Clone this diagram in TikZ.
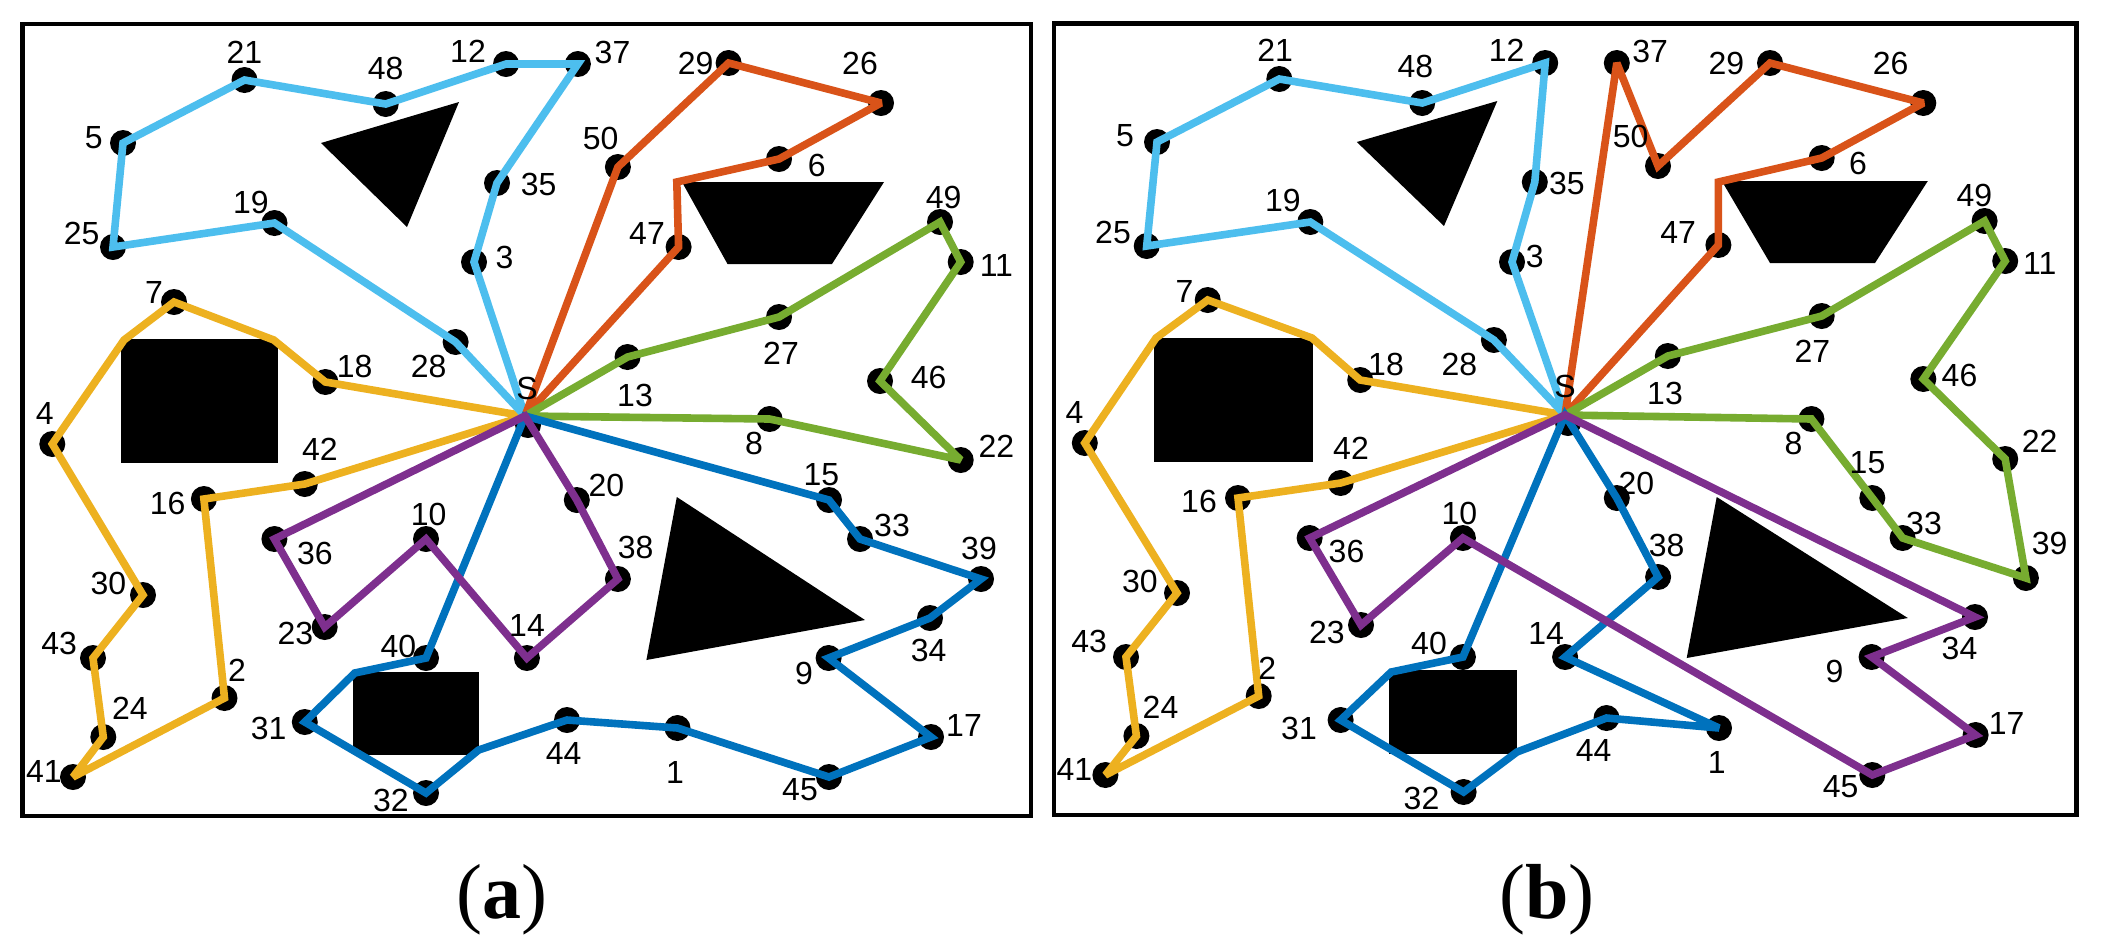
\documentclass[tikz,border=0pt]{standalone}
\usepackage{fontspec}
\setmainfont{Liberation Serif}
\newfontfamily\lblfont{Liberation Sans}
\definecolor{mlblue}{RGB}{0,114,189}
\definecolor{mlorange}{RGB}{217,83,25}
\definecolor{mlyellow}{RGB}{237,177,32}
\definecolor{mlpurple}{RGB}{126,47,142}
\definecolor{mlgreen}{RGB}{119,172,48}
\definecolor{mlcyan}{RGB}{77,190,238}
\gdef\lbls{}
\newcommand\mkpt[6]{\coordinate (#1) at (#2,#3); \fill (#1) circle[radius=6.5pt];%
  \expandafter\gdef\expandafter\lbls\expandafter{\lbls \node[lbl] (l#1) at (#4,#5) {#6};}}
\begin{document}
\begin{tikzpicture}[x=0.5pt,y=-0.5pt,
  lbl/.style={font=\lblfont\fontsize{16}{16}\selectfont, inner sep=0pt},
  route/.style={line width=3.8pt, line join=miter, miter limit=2.5, line cap=butt},
  frm/.style={line width=2.25pt},
  captxt/.style={font=\fontsize{39}{39}\selectfont, inner sep=0pt}]
\useasboundingbox (0,0) rectangle (2103,950);
\fill[white] (0,0) rectangle (2103,950);
% ---------------- panel (a) ----------------
\draw[frm] (22.4,24) rectangle (1031,816);
\fill (321,143) -- (459,102) -- (407,227) -- cycle;
\fill (120.5,339) rectangle (278,462.7);
\fill (682,182) -- (884,182) -- (832,264) -- (727.5,264) -- cycle;
\fill (676.8,497) -- (865,620) -- (646.4,660) -- cycle;
\fill (353,672) rectangle (478.6,755);
\coordinate (aS) at (525,416);
\fill (528,425) circle[radius=6.5pt];
\mkpt{a1}{677.5}{728}{675}{772}{1}
\mkpt{a2}{224.5}{698}{237}{670}{2}
\mkpt{a3}{474}{262}{504.5}{257}{3}
\mkpt{a4}{52.3}{444}{44.8}{413}{4}
\mkpt{a5}{123}{143}{93.7}{138}{5}
\mkpt{a6}{779}{159}{816.8}{165}{6}
\mkpt{a7}{174}{302}{154}{292}{7}
\mkpt{a8}{769.6}{419}{754}{443}{8}
\mkpt{a9}{828.6}{658}{804}{673}{9}
\mkpt{a10}{426}{539}{428.7}{514}{10}
\mkpt{a11}{960.7}{262}{996.4}{265}{11}
\mkpt{a12}{506}{64}{468}{51}{12}
\mkpt{a13}{627.5}{357}{635}{395}{13}
\mkpt{a14}{526.9}{658}{527}{625}{14}
\mkpt{a15}{829}{500}{821.4}{475}{15}
\mkpt{a16}{203.9}{499}{167.7}{503}{16}
\mkpt{a17}{931}{737}{964}{725}{17}
\mkpt{a18}{325.4}{382}{354.7}{366}{18}
\mkpt{a19}{274.5}{223}{251}{202}{19}
\mkpt{a20}{576.8}{500}{606.4}{485}{20}
\mkpt{a21}{244.5}{80}{244.5}{52}{21}
\mkpt{a22}{960.7}{460}{996.4}{446}{22}
\mkpt{a23}{324.7}{627}{295.5}{633}{23}
\mkpt{a24}{103.3}{737}{130}{708}{24}
\mkpt{a25}{113}{247}{81.6}{233}{25}
\mkpt{a26}{881}{103}{860}{63}{26}
\mkpt{a27}{779}{317}{781}{353}{27}
\mkpt{a28}{455.6}{342}{428.7}{366}{28}
\mkpt{a29}{728.6}{63}{695.7}{63}{29}
\mkpt{a30}{143}{595}{108.5}{583}{30}
\mkpt{a31}{304.8}{722}{268.6}{728}{31}
\mkpt{a32}{426}{793}{390.8}{800}{32}
\mkpt{a33}{860}{539}{892}{525}{33}
\mkpt{a34}{930}{618}{928.6}{650}{34}
\mkpt{a35}{497}{183}{538.6}{184}{35}
\mkpt{a36}{274.4}{539}{315}{553}{36}
\mkpt{a37}{577.9}{64}{612.5}{52}{37}
\mkpt{a38}{617.9}{579}{635.7}{547}{38}
\mkpt{a39}{981}{579}{979}{548}{39}
\mkpt{a40}{426}{658}{398.4}{646}{40}
\mkpt{a41}{73}{777}{44}{771}{41}
\mkpt{a42}{304.8}{484}{320}{449}{42}
\mkpt{a43}{93}{658}{59.2}{643}{43}
\mkpt{a44}{567}{720}{563.6}{753}{44}
\mkpt{a45}{829}{777}{800}{790}{45}
\mkpt{a46}{880}{381}{928.6}{377}{46}
\mkpt{a47}{678.6}{247}{647}{233}{47}
\mkpt{a48}{385.7}{104}{385.7}{68}{48}
\mkpt{a49}{940}{222}{943.6}{197}{49}
\mkpt{a50}{617.9}{167}{600.7}{138}{50}
\coordinate (ac1) at (273.8,340);
\coordinate (ac2) at (124,340);
\coordinate (ac3) at (676.8,182);
\coordinate (ac4) at (478.6,750);
\coordinate (ac5) at (354.7,673);
\draw[route,mlyellow] (aS) -- (a18) -- (ac1) -- (a7) -- (ac2) -- (a4) -- (a30) -- (a43) -- (a24) -- (a41) -- (a2) -- (a16) -- (a42) -- cycle;
\draw[route,mlcyan] (aS) -- (a28) -- (a19) -- (a25) -- (a5) -- (a21) -- (a48) -- (a12) -- (a37) -- (a35) -- (a3) -- cycle;
\draw[route,mlorange] (aS) -- (a50) -- (a29) -- (a26) -- (a6) -- (ac3) -- (a47) -- cycle;
\draw[route,mlgreen] (aS) -- (a13) -- (a27) -- (a49) -- (a11) -- (a46) -- (a22) -- (a8) -- cycle;
\draw[route,mlblue] (aS) -- (a15) -- (a33) -- (a39) -- (a34) -- (a9) -- (a17) -- (a45) -- (a1) -- (a44) -- (ac4) -- (a32) -- (a31) -- (ac5) -- (a40) -- cycle;
\draw[route,mlpurple] (aS) -- (a20) -- (a38) -- (a14) -- (a10) -- (a23) -- (a36) -- cycle;
\node[captxt] (capa) at (502,900) {(\textbf{a})};
% ---------------- panel (b) ----------------
\draw[frm] (1053.8,23.3) rectangle (2076.5,815);
\fill (1356.8,142) -- (1497.3,101) -- (1444,226) -- cycle;
\fill (1153.6,338) rectangle (1313,461.7);
\fill (1721.8,181) -- (1927.8,181) -- (1875,263) -- (1770,263) -- cycle;
\fill (1716.7,497) -- (1907.8,618) -- (1686.7,658) -- cycle;
\fill (1388.8,670) rectangle (1516.9,754);
\coordinate (bS) at (1565,415);
\fill (1568,423) circle[radius=6.5pt];
\mkpt{b1}{1719}{728}{1716.7}{762}{1}
\mkpt{b2}{1258.7}{696}{1267.3}{668}{2}
\mkpt{b3}{1512}{262}{1534.8}{256}{3}
\mkpt{b4}{1084.8}{443}{1074.4}{412}{4}
\mkpt{b5}{1157}{142}{1125}{136}{5}
\mkpt{b6}{1821.7}{158}{1857.9}{163}{6}
\mkpt{b7}{1207.7}{300}{1184.6}{291}{7}
\mkpt{b8}{1811.4}{419}{1793.5}{443}{8}
\mkpt{b9}{1871.6}{657}{1834.5}{671}{9}
\mkpt{b10}{1462.9}{538}{1459.4}{513}{10}
\mkpt{b11}{2005.2}{261}{2039.7}{263}{11}
\mkpt{b12}{1545.2}{63}{1506.6}{50}{12}
\mkpt{b13}{1667.8}{356}{1665}{393}{13}
\mkpt{b14}{1565.1}{657}{1546.2}{633}{14}
\mkpt{b15}{1872.3}{498}{1867.5}{463}{15}
\mkpt{b16}{1238}{498}{1199}{501}{16}
\mkpt{b17}{1975.6}{735}{2006.6}{723}{17}
\mkpt{b18}{1360.2}{380}{1386}{364}{18}
\mkpt{b19}{1310.3}{222}{1282.8}{200}{19}
\mkpt{b20}{1616.8}{498}{1636.4}{483}{20}
\mkpt{b21}{1279.3}{79}{1275.2}{50}{21}
\mkpt{b22}{2005.2}{459}{2039.7}{441}{22}
\mkpt{b23}{1361}{625}{1326.8}{632}{23}
\mkpt{b24}{1136.4}{736}{1160.5}{707}{24}
\mkpt{b25}{1146.7}{246}{1113}{232}{25}
\mkpt{b26}{1923.3}{103}{1890.6}{63}{26}
\mkpt{b27}{1821.7}{316}{1812.4}{351}{27}
\mkpt{b28}{1493.9}{340}{1459.4}{364}{28}
\mkpt{b29}{1770}{63}{1726.3}{63}{29}
\mkpt{b30}{1177}{593}{1139.9}{581}{30}
\mkpt{b31}{1340.6}{720}{1299}{728}{31}
\mkpt{b32}{1463.6}{792}{1421.5}{798}{32}
\mkpt{b33}{1902.6}{538}{1924}{523}{33}
\mkpt{b34}{1975}{617}{1959.5}{648}{34}
\mkpt{b35}{1534.8}{182}{1566.9}{183}{35}
\mkpt{b36}{1309.6}{538}{1346.5}{551}{36}
\mkpt{b37}{1616.8}{63}{1650.2}{51}{37}
\mkpt{b38}{1658.1}{577}{1666.7}{545}{38}
\mkpt{b39}{2025.9}{578}{2049.7}{543}{39}
\mkpt{b40}{1462.9}{657}{1429}{643}{40}
\mkpt{b41}{1105.4}{775}{1074.4}{769}{41}
\mkpt{b42}{1340.6}{483}{1351}{448}{42}
\mkpt{b43}{1126}{657}{1089.2}{641}{43}
\mkpt{b44}{1606.5}{718}{1593.7}{750}{44}
\mkpt{b45}{1872.3}{775}{1840.6}{787}{45}
\mkpt{b46}{1923.3}{379}{1959.5}{375}{46}
\mkpt{b47}{1718.4}{245}{1678.1}{232}{47}
\mkpt{b48}{1422.2}{103}{1415.3}{66}{48}
\mkpt{b49}{1984.6}{221}{1974.3}{195}{49}
\mkpt{b50}{1658}{166}{1630.6}{136}{50}
\coordinate (bc1) at (1312,338);
\coordinate (bc2) at (1156,338);
\coordinate (bc3) at (1718.4,182);
\coordinate (bc4) at (1516.9,752);
\coordinate (bc5) at (1391.2,672);
\draw[route,mlyellow] (bS) -- (b18) -- (bc1) -- (b7) -- (bc2) -- (b4) -- (b30) -- (b43) -- (b24) -- (b41) -- (b2) -- (b16) -- (b42) -- cycle;
\draw[route,mlcyan] (bS) -- (b28) -- (b19) -- (b25) -- (b5) -- (b21) -- (b48) -- (b12) -- (b35) -- (b3) -- cycle;
\draw[route,mlorange] (bS) -- (b37) -- (b50) -- (b29) -- (b26) -- (b6) -- (bc3) -- (b47) -- cycle;
\draw[route,mlgreen] (bS) -- (b13) -- (b27) -- (b49) -- (b11) -- (b46) -- (b22) -- (b39) -- (b33) -- (b15) -- (b8) -- cycle;
\draw[route,mlblue] (bS) -- (b20) -- (b38) -- (b14) -- (b1) -- (b44) -- (bc4) -- (b32) -- (b31) -- (bc5) -- (b40) -- cycle;
\draw[route,mlpurple] (bS) -- (b34) -- (b9) -- (b17) -- (b45) -- (b10) -- (b23) -- (b36) -- cycle;
\node[captxt] (capb) at (1547,900) {(\textbf{b})};
% ---------------- labels on top ----------------
\lbls
\node[lbl] (laS) at (527,388) {S};
\node[lbl] (lbS) at (1565,386) {S};
\end{tikzpicture}
\end{document}
